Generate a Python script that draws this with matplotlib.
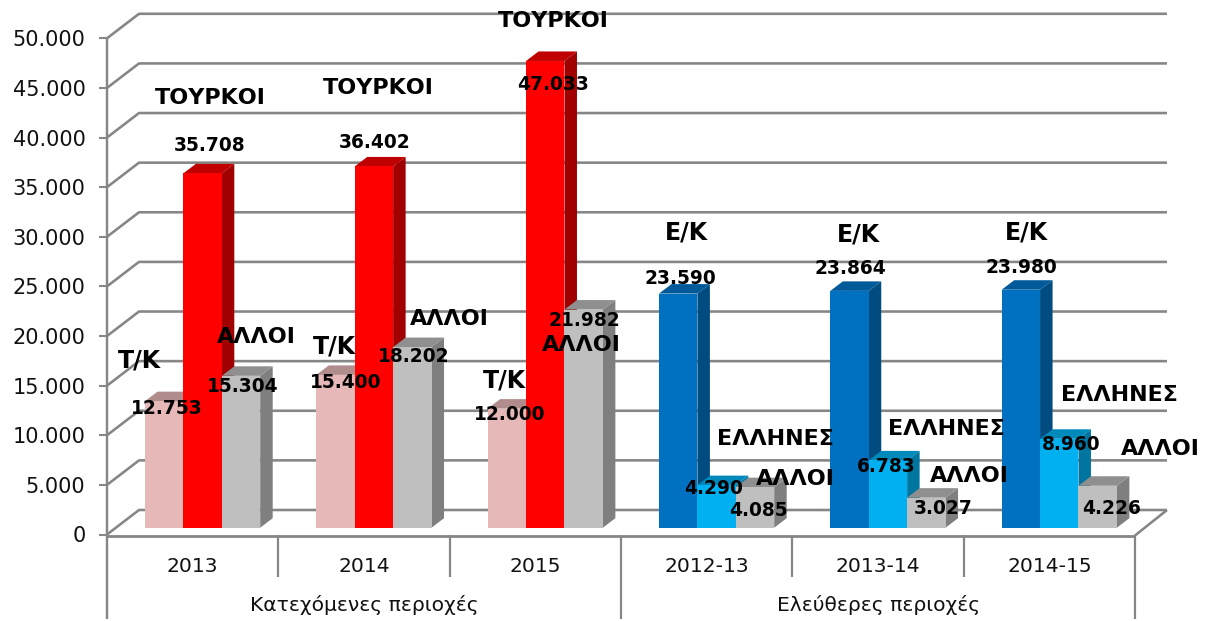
import matplotlib
matplotlib.use('Agg')
import matplotlib.pyplot as plt
from matplotlib.patches import Polygon

categories = ['2013', '2014', '2015', '2012-13', '2013-14', '2014-15']
groups = ['Κατεχόμενες περιοχές', 'Ελεύθερες περιοχές']
yticks = list(range(0, 50001, 5000))

# three bars in each category, left to right
left_vals = [12753, 15400, 12000, 23590, 23864, 23980]
mid_vals = [35708, 36402, 47033, 4290, 6783, 8960]
right_vals = [15304, 18202, 21982, 4085, 3027, 4226]

left_names = ['Τ/Κ', 'Τ/Κ', 'Τ/Κ', 'Ε/Κ', 'Ε/Κ', 'Ε/Κ']
mid_names = ['ΤΟΥΡΚΟΙ', 'ΤΟΥΡΚΟΙ', 'ΤΟΥΡΚΟΙ', 'ΕΛΛΗΝΕΣ', 'ΕΛΛΗΝΕΣ', 'ΕΛΛΗΝΕΣ']
right_names = ['ΑΛΛΟΙ'] * 6

# label centres in pixels: (value label, name label)
left_pos = [((167, 408), (139, 360)), ((346, 382), (334, 347)), ((510, 415), (504, 381)),
            ((680, 278), (686, 232)), ((850, 269), (858, 234)), ((1021, 268), (1026, 233))]
mid_pos = [((210, 146), (210, 98)), ((375, 142), (378, 88)), ((553, 84), (553, 21)),
           ((714, 488), (775, 439)), ((886, 467), (946, 429)), ((1071, 445), (1119, 395))]
right_pos = [((243, 386), (256, 337)), ((414, 357), (449, 319)), ((584, 320), (581, 345)),
             ((758, 511), (795, 479)), ((943, 509), (969, 476)), ((1112, 509), (1160, 449))]

# (front, top, side)
PINK = ('#E6B8B7', '#B08D8C', '#A88584')
RED = ('#FF0000', '#C00000', '#A00000')
GREY = ('#BFBFBF', '#8F8F8F', '#7F7F7F')
BLUE = ('#0070C0', '#005A9A', '#004B80')
CYAN = ('#00B0F0', '#0089BB', '#0075A0')
LINE = '#868686'

W, H = 1210, 621
X0, X1, Y0, Y50 = 107, 1135, 534.5, 38.3
px_x = (X1 - X0) / 6
px_y = (Y0 - Y50) / 50000

fig = plt.figure(figsize=(W / 100, H / 100), dpi=100)
ax = fig.add_axes([X0 / W, 1 - Y0 / H, (X1 - X0) / W, (Y0 - Y50) / H])
ax.set_xlim(0, 6)
ax.set_ylim(0, 50000)
for s in ax.spines.values():
    s.set_visible(False)
ax.patch.set_visible(False)


def line(xs, ys, lw=2.0):
    ax.plot(xs, ys, color=LINE, lw=lw * 0.72, clip_on=False, zorder=1, solid_capstyle='butt')


# walls
wall_dx = 32 / px_x
wall_dy = 24.5 / px_y
for v in yticks:
    line([0, wall_dx, 6 + wall_dx], [v, v + wall_dy, v + wall_dy], 2.6)
line([6, 6 + wall_dx], [-1 / px_y, wall_dy], 2.6)

# floor edge and separators under the axis
line([0, 6], [-1 / px_y, -1 / px_y], 2.8)
line([0, 0], [-84 / px_y, 50000], 2.4)
for i in range(1, 7):
    bottom = 84 if i in (3, 6) else 42
    line([i, i], [-bottom / px_y, 0], 2.2)

ax.set_yticks(yticks)
ax.set_yticklabels([f'{v:,}'.replace(',', '.') for v in yticks], fontsize=15, color='#111111')
ax.tick_params(axis='y', length=5.5, width=1.5, color=LINE, pad=10)
ax.set_xticks([i + 0.5 for i in range(6)])
ax.set_xticklabels(categories, fontsize=14.6, color='#111111')
ax.tick_params(axis='x', length=0, pad=16)
fig.text(364 / W, 1 - 605 / H, groups[0], fontsize=14.6, color='#111111', ha='center', va='center')
fig.text(879 / W, 1 - 605 / H, groups[1], fontsize=14.6, color='#111111', ha='center', va='center')

# bars
bar_w = 38.4 / px_x
margin = 38 / px_x
base = 6.8 / px_y
dx = 12.5 / px_x
dy = 9.5 / px_y


def bar3d(x, v, cols, z):
    top = base + v
    ax.add_patch(Polygon([(x + bar_w, base), (x + bar_w + dx, base + dy), (x + bar_w + dx, top + dy), (x + bar_w, top)],
                         fc=cols[2], ec='none', zorder=z, clip_on=False))
    ax.add_patch(Polygon([(x, top), (x + dx, top + dy), (x + bar_w + dx, top + dy), (x + bar_w, top)],
                         fc=cols[1], ec='none', zorder=z, clip_on=False))
    ax.bar(x, v, bar_w, bottom=base, align='edge', color=cols[0], zorder=z, clip_on=False)


for i in range(6):
    start = i + margin
    bar3d(start, left_vals[i], PINK if i < 3 else BLUE, 2)
    bar3d(start + bar_w, mid_vals[i], RED if i < 3 else CYAN, 3)
    bar3d(start + 2 * bar_w, right_vals[i], GREY, 4)


def label(pos, s, size):
    fig.text(pos[0] / W, 1 - pos[1] / H, s, fontsize=size, fontweight='bold', color='black',
             ha='center', va='center', zorder=10)


for vals, names, pos in [(left_vals, left_names, left_pos), (mid_vals, mid_names, mid_pos),
                         (right_vals, right_names, right_pos)]:
    for v, n, p in zip(vals, names, pos):
        label(p[0], f'{v:,}'.replace(',', '.'), 13.4)
        label(p[1], n, 17 if '/' in n else 16)

fig.savefig('out.png', dpi=100)
